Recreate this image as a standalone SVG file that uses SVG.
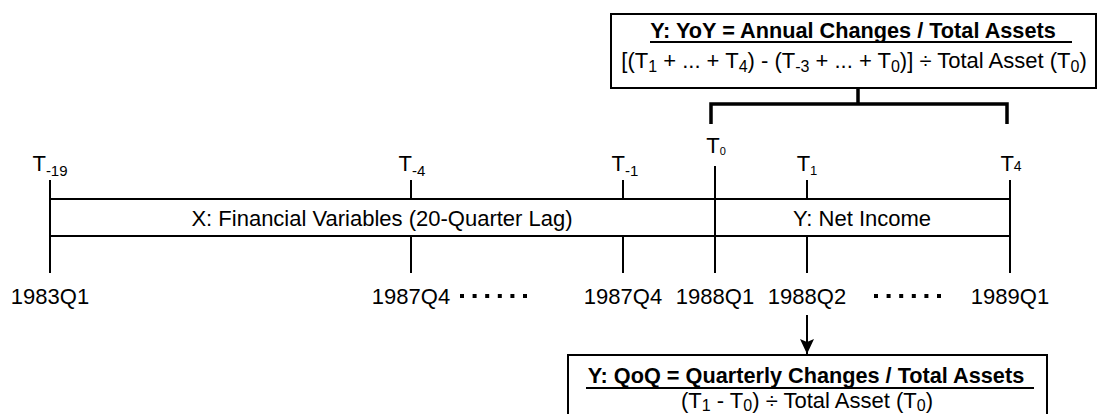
<svg xmlns="http://www.w3.org/2000/svg" width="1097" height="414" viewBox="0 0 1097 414">
<style>
text{font-family:"Liberation Sans",Arial,sans-serif;font-size:22px;fill:#000}
.b{font-weight:bold;font-size:21.7px}
.thin{stroke:#000;stroke-width:2;fill:none}
.thick{stroke:#000;stroke-width:3.5;fill:none}
.box{stroke:#000;stroke-width:2;fill:#fff}
.dots{stroke:#000;stroke-width:4;stroke-dasharray:4 8.6;fill:none}
.ul{stroke:#000;stroke-width:2}
</style>
<defs>
<marker id="ah" viewBox="0 0 15 14" refX="15" refY="7" markerWidth="15" markerHeight="14" markerUnits="userSpaceOnUse" orient="auto">
<path d="M0,0 L15,7 L0,14 L3,7 Z" fill="#000"/>
</marker>
</defs>
<g id="timeline">
<line class="thin" x1="50" y1="199" x2="1010" y2="199"/>
<line class="thin" x1="50" y1="236" x2="1010" y2="236"/>
<text x="382" y="226" text-anchor="middle">X: Financial Variables (20-Quarter Lag)</text>
<text x="862" y="226" text-anchor="middle">Y: Net Income</text>
</g>
<g id="connectors">
<line class="thin" x1="50" y1="180" x2="50" y2="273"/>
<line class="thin" x1="411" y1="180" x2="411" y2="199"/>
<line class="thin" x1="411" y1="236" x2="411" y2="273"/>
<line class="thin" x1="623" y1="180" x2="623" y2="199"/>
<line class="thin" x1="623" y1="236" x2="623" y2="273"/>
<line class="thin" x1="715" y1="166" x2="715" y2="273"/>
<line class="thin" x1="807" y1="180" x2="807" y2="199"/>
<line class="thin" x1="807" y1="236" x2="807" y2="273"/>
<line class="thin" x1="1010" y1="180" x2="1010" y2="273"/>
<path class="thick" d="M858,88 V104 M711,124 V104 H1007 V124"/>
<line class="thin" x1="807" y1="315" x2="807" y2="354" marker-end="url(#ah)"/>
<line class="dots" x1="460" y1="296" x2="530" y2="296"/>
<line class="dots" x1="874" y1="296" x2="944" y2="296"/>
</g>
<g id="tlabels">
<text x="50" y="171" text-anchor="middle">T<tspan font-size="15" dy="5">-19</tspan></text>
<text x="412" y="171" text-anchor="middle">T<tspan font-size="15" dy="5">-4</tspan></text>
<text x="625" y="171" text-anchor="middle">T<tspan font-size="15" dy="5">-1</tspan></text>
<text x="716" y="153" text-anchor="middle">T<tspan font-size="11" dy="2">0</tspan></text>
<text x="807" y="171" text-anchor="middle">T<tspan font-size="13" dy="4">1</tspan></text>
<text x="1011" y="171" text-anchor="middle">T<tspan font-size="14">4</tspan></text>
</g>
<g id="dates">
<text x="50" y="304" text-anchor="middle">1983Q1</text>
<text x="411" y="304" text-anchor="middle">1987Q4</text>
<text x="623" y="304" text-anchor="middle">1987Q4</text>
<text x="715" y="304" text-anchor="middle">1988Q1</text>
<text x="807" y="304" text-anchor="middle">1988Q2</text>
<text x="1010" y="304" text-anchor="middle">1989Q1</text>
</g>
<g id="yoy">
<rect class="box" x="611" y="14" width="485" height="74"/>
<text class="b" x="853" y="38" text-anchor="middle">Y: YoY = Annual Changes / Total Assets</text>
<line class="ul" x1="650" y1="42" x2="1072" y2="42"/>
<text x="854" y="68" text-anchor="middle">[(T<tspan font-size="16" dy="4">1</tspan><tspan dy="-4"> + ... + T</tspan><tspan font-size="16" dy="4">4</tspan><tspan dy="-4">) - (T</tspan><tspan font-size="16" dy="4">-3</tspan><tspan dy="-4"> + ... + T</tspan><tspan font-size="16" dy="4">0</tspan><tspan dy="-4">)] ÷ Total Asset (T</tspan><tspan font-size="16" dy="4">0</tspan><tspan dy="-4">)</tspan></text>
</g>
<g id="qoq">
<rect class="box" x="568" y="355" width="479" height="72"/>
<text class="b" x="806" y="383" text-anchor="middle">Y: QoQ = Quarterly Changes / Total Assets</text>
<line class="ul" x1="586" y1="388" x2="1034" y2="388"/>
<text x="807" y="408" text-anchor="middle">(T<tspan font-size="16" dy="3">1</tspan><tspan dy="-3"> - T</tspan><tspan font-size="16" dy="3">0</tspan><tspan dy="-3">) ÷ Total Asset (T</tspan><tspan font-size="16" dy="3">0</tspan><tspan dy="-3">)</tspan></text>
</g>
</svg>
